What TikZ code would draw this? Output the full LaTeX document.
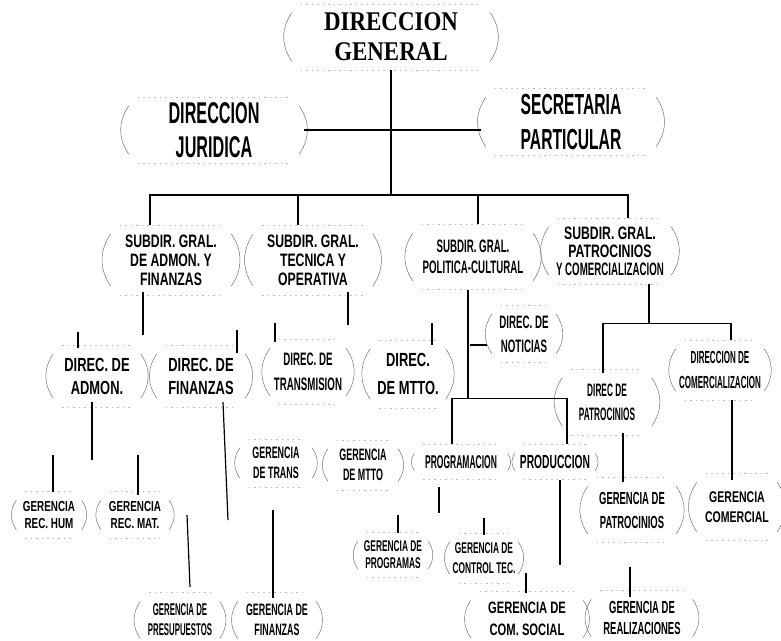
\documentclass[tikz,border=0pt]{standalone}
\usepackage{fontspec}
\setmainfont{Liberation Sans}
\newfontfamily\ftop[FakeStretch=0.85]{Liberation Serif}
\newfontfamily\fA[FakeStretch=0.54]{Liberation Sans}
\newfontfamily\fB[FakeStretch=0.68]{Liberation Sans}
\newfontfamily\fC[FakeStretch=0.46]{Liberation Sans}
\begin{document}
\begin{tikzpicture}[x=1pt,y=-1pt,
  box/.style={align=center, inner sep=0pt, text=black},
  bx/.style 2 args={minimum width=#1, minimum height=#2},
  paren/.style={line width=0.5pt, black!55},
  edgeline/.style={gray!55, line width=0.5pt, dash pattern=on 1.5pt off 4pt},
  conn/.style={line width=1.2pt, black},
  thickconn/.style={line width=2.6pt, black}]
\useasboundingbox[fill=white] (0,0) rectangle (781,640);

% level 0/1
\node[box, bx={208pt}{66pt}, font=\ftop\bfseries\fontsize{27}{30}\selectfont] (dg) at (391,37) {DIRECCION\\GENERAL};
\node[box, bx={180pt}{66pt}, font=\fA\bfseries\fontsize{30}{34}\selectfont] (dj) at (214,130) {DIRECCION\\JURIDICA};
\node[box, bx={180pt}{67pt}, font=\fA\bfseries\fontsize{29}{35}\selectfont] (sp) at (571,122) {SECRETARIA\\PARTICULAR};

% subdirecciones
\node[box, bx={130pt}{70pt}, font=\fB\bfseries\fontsize{18}{19}\selectfont] (s1) at (171,260) {SUBDIR. GRAL.\\DE ADMON. Y\\FINANZAS};
\node[box, bx={129pt}{70pt}, font=\fB\bfseries\fontsize{18}{19}\selectfont] (s2) at (313,260) {SUBDIR. GRAL.\\TECNICA Y\\OPERATIVA};
\node[box, bx={130pt}{65pt}, font=\fA\bfseries\fontsize{18}{21}\selectfont] (s3) at (473,257) {SUBDIR. GRAL.\\POLITICA-CULTURAL};
\node[box, bx={132pt}{66pt}, font=\fB\bfseries\fontsize{18}{18}\selectfont] (s4) at (610,251) {SUBDIR. GRAL.\\PATROCINIOS\\{\fA\bfseries Y COMERCIALIZACION}};

% direcciones
\node[box, bx={97pt}{62pt}, font=\fB\bfseries\fontsize{19}{23}\selectfont] (da) at (97,376) {DIREC. DE\\ADMON.};
\node[box, bx={98pt}{62pt}, font=\fB\bfseries\fontsize{19}{23}\selectfont] (df) at (201,376) {DIREC. DE\\FINANZAS};
\node[box, bx={86pt}{65pt}, font=\fA\bfseries\fontsize{18}{25}\selectfont] (dt) at (308,372) {DIREC. DE\\TRANSMISION};
\node[box, bx={85pt}{68pt}, font=\fB\bfseries\fontsize{19}{28}\selectfont] (dm) at (408,374) {DIREC.\\DE MTTO.};
\node[box, bx={74pt}{57pt}, font=\fA\bfseries\fontsize{18}{24}\selectfont] (dn) at (524,334) {DIREC. DE\\NOTICIAS};
\node[box, bx={99pt}{66pt}, font=\fC\bfseries\fontsize{18}{24}\selectfont] (dp) at (607,402) {DIREC DE\\PATROCINIOS};
\node[box, bx={98pt}{60pt}, font=\fC\bfseries\fontsize{17.5}{25}\selectfont] (dc) at (720,370) {DIRECCION DE\\COMERCIALIZACION};

% gerencias
\node[box, bx={75pt}{47pt}, font=\fB\bfseries\fontsize{14.5}{17}\selectfont] (grh) at (49,515) {GERENCIA\\REC. HUM};
\node[box, bx={78pt}{47pt}, font=\fB\bfseries\fontsize{14.5}{17}\selectfont] (grm) at (135,515) {GERENCIA\\REC. MAT.};
\node[box, bx={82pt}{48pt}, font=\fA\bfseries\fontsize{16.5}{20}\selectfont] (gtr) at (276,463) {GERENCIA\\DE TRANS};
\node[box, bx={80pt}{50pt}, font=\fA\bfseries\fontsize{16.5}{20}\selectfont] (gmt) at (363,465) {GERENCIA\\DE MTTO};
\node[box, bx={103pt}{35pt}, font=\fC\bfseries\fontsize{18.5}{20}\selectfont] (gpg) at (461,462) {PROGRAMACION};
\node[box, bx={90pt}{35pt}, font=\fA\bfseries\fontsize{19}{20}\selectfont] (gpd) at (555,462) {PRODUCCION};
\node[box, bx={80pt}{45pt}, font=\fA\bfseries\fontsize{15.5}{17}\selectfont] (gprg) at (393,555) {GERENCIA DE\\PROGRAMAS};
\node[box, bx={78pt}{50pt}, font=\fA\bfseries\fontsize{15.5}{20}\selectfont] (gct) at (484,558) {GERENCIA DE\\CONTROL TEC.};
\node[box, bx={89pt}{55pt}, font=\fC\bfseries\fontsize{17}{20}\selectfont] (gpres) at (180,620) {GERENCIA DE\\PRESUPUESTOS};
\node[box, bx={88pt}{55pt}, font=\fA\bfseries\fontsize{16.5}{20}\selectfont] (gfin) at (277,620) {GERENCIA DE\\FINANZAS};
\node[box, bx={122pt}{55pt}, font=\fB\bfseries\fontsize{16.5}{22}\selectfont] (gcs) at (527,619) {GERENCIA DE\\COM. SOCIAL};
\node[box, bx={111pt}{55pt}, font=\fA\bfseries\fontsize{17.5}{21}\selectfont] (grz) at (642,618) {GERENCIA DE\\REALIZACIONES};
\node[box, bx={98pt}{65pt}, font=\fA\bfseries\fontsize{17.5}{24}\selectfont] (gpat) at (632,510) {GERENCIA DE\\PATROCINIOS};
\node[box, bx={90pt}{67pt}, font=\fB\bfseries\fontsize{15.5}{20}\selectfont] (gcm) at (737,507) {GERENCIA\\COMERCIAL};

% bracket-like box outlines
\foreach \n in {dg,dj,sp,s1,s2,s3,s4,da,df,dt,dm,dn,dp,dc,grh,grm,gtr,gmt,gpg,gpd,gprg,gct,gpres,gfin,gcs,grz,gpat,gcm} {
  \draw[paren] ([xshift=5pt,yshift=-9pt]\n.north west) to[bend right=35] ([xshift=5pt,yshift=9pt]\n.south west);
  \draw[paren] ([xshift=-5pt,yshift=-9pt]\n.north east) to[bend left=35] ([xshift=-5pt,yshift=9pt]\n.south east);
  \draw[edgeline] ([xshift=14pt]\n.north west) -- ([xshift=-14pt]\n.north east);
  \draw[edgeline] ([xshift=14pt]\n.south west) -- ([xshift=-14pt]\n.south east);
}

% connectors: top
\coordinate (bus) at (391,195);
\draw[conn] (dg.south) -- (bus);
\draw[conn] (dj.east) -- (dj.east -| sp.west);
\draw[conn] (bus) -| ([xshift=-21pt]s1.north);
\draw[conn] (bus) -| ([xshift=18pt]s4.north);
\draw[conn] ([xshift=-15pt]s2.north) -- ([xshift=-15pt]s2.north |- bus);
\draw[conn] ([xshift=5pt]s3.north) -- ([xshift=5pt]s3.north |- bus);

% admon y finanzas
\draw[thickconn] (s1.south) ++(-28,-3) -- ++(0,43);
\draw[conn] (da.north) ++(-19,-13) -- ++(0,16);
\draw[conn] (df.north) ++(36,-15) -- ++(0,23);
\draw[conn] (da.south) ++(-5,-5) -- ++(0,58);
\draw[conn] (grh.north) ++(4,0.5) -- ++(0,-37);
\draw[conn] (grm.north) ++(3,3.5) -- ++(0,-40);
\draw[conn] (df.south) ++(22,-5) -- ++(5,118);
\draw[conn] (gpres.north) ++(10,-5.5) -- ++(-3,-72);
\draw[conn] (gfin.north) ++(-4,5.5) -- ++(0,-88);

% tecnica y operativa
\draw[thickconn] (s2.south) ++(35,-3) -- ++(0,33);
\draw[conn] (dt.north) ++(-33,-16) -- ++(0,19);
\draw[conn] (dm.north) ++(24,-17) -- ++(0,22);

% politica-cultural
\draw[conn] (s3.south) ++(-5,0) -- ++(0,108.5) coordinate (s3j);
\draw[conn] ([xshift=-9pt]gpg.north) |- ([xshift=12pt]gpd.north |- s3j) -- ([xshift=12pt]gpd.north);
\draw[conn] (dn.west) ++(0,11) -- ++(-17,0);
\draw[thickconn] (gpg.south) ++(-22,7.5) -- ++(0,26);
\draw[conn] (gprg.north) ++(5,0.5) -- ++(0,-18);
\draw[conn] (gct.north) ++(0,2) -- ++(0,-17);
\draw[conn] (gpd.south) ++(5,0.5) -- ++(0,85);
\draw[conn] (gcs.north) ++(-1,1.5) -- ++(0,-20);

% patrocinios y comercializacion
\draw[thickconn] (s4.south) ++(39,0) -- ++(0,39) coordinate (s4j);
\draw[conn] ([xshift=-4pt,yshift=-4pt]dp.north) |- ([xshift=11pt]dc.north |- s4j) -- ([xshift=11pt]dc.north);
\draw[conn] (dp.south) ++(16,-2) -- ++(0,49);
\draw[conn] (dc.south) ++(12,0) -- ++(0,80);
\draw[conn] (grz.north) ++(-12,6.5) -- ++(0,-30);
\end{tikzpicture}
\end{document}
